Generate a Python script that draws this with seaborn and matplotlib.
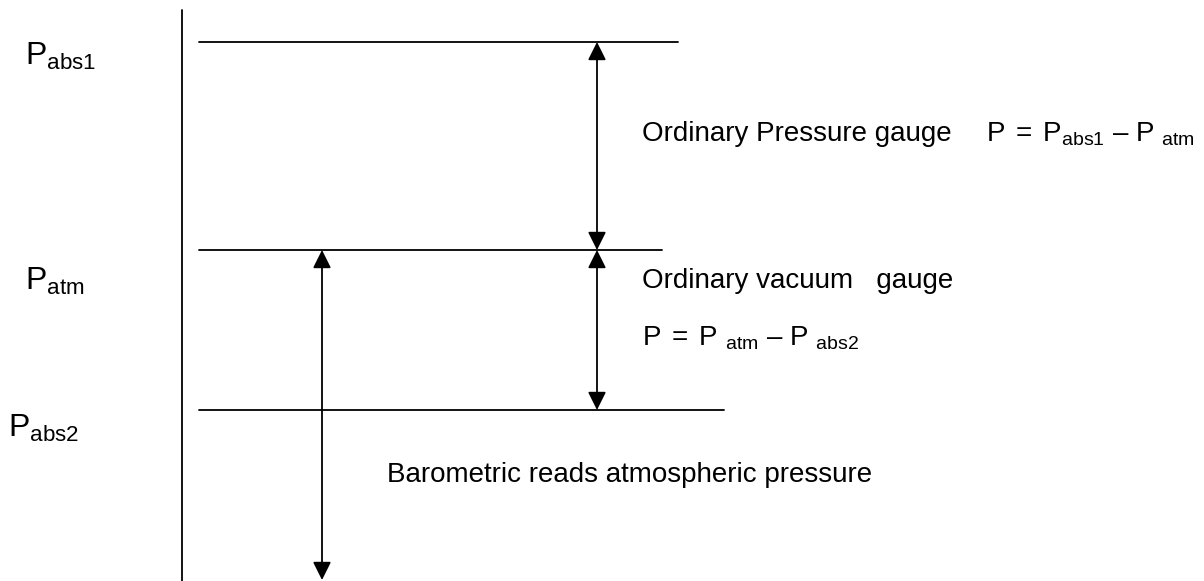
import pandas as pd
import matplotlib.pyplot as plt
import seaborn as sns

# pressure levels (pixel space of the diagram, y grows downwards)
level_names = ["abs1", "atm", "abs2"]
level_y = [42, 250, 410]
level_x0 = [199, 199, 199]
level_x1 = [678, 662, 724]

# left labels
label_text = [r"$\mathrm{P_{abs1}}$", r"$\mathrm{P_{atm}}$", r"$\mathrm{P_{abs2}}$"]
label_x = [25, 25, 8]
label_y = [65, 290, 437]

# arrows: (x, y_from, y_to)
arrow_x = [597, 597, 322]
arrow_y0 = [42, 250, 250]
arrow_y1 = [250, 410, 580]

# right-hand descriptions
desc_text = [
    "Ordinary Pressure gauge",
    r"$\mathrm{P\;=\;P_{abs1}\ –\ P\ {}_{atm}}$",
    "Ordinary vacuum   gauge",
    r"$\mathrm{P\;=\;P\ {}_{atm}\ –\ P\ {}_{abs2}}$",
    "Barometric reads atmospheric pressure",
]
desc_x = [642, 986, 642, 642, 387]
desc_y = [141, 141, 288, 346, 482]

sns.set_theme(style="white")
plt.rcParams["font.family"] = ["Liberation Sans", "DejaVu Sans"]
plt.rcParams["mathtext.fontset"] = "custom"
plt.rcParams["mathtext.rm"] = "Liberation Sans"
plt.rcParams["mathtext.it"] = "Liberation Sans"
plt.rcParams["mathtext.bf"] = "Liberation Sans:bold"

fig = plt.figure(figsize=(12.04, 5.81), dpi=100)
ax = fig.add_axes([0, 0, 1, 1])

# horizontal level lines
rows = []
for name, y, x0, x1 in zip(level_names, level_y, level_x0, level_x1):
    rows.append({"level": name, "x": x0, "y": y})
    rows.append({"level": name, "x": x1, "y": y})
df = pd.DataFrame(rows)
sns.lineplot(data=df, x="x", y="y", units="level", estimator=None,
             color="black", lw=1.3, ax=ax, legend=False, sort=False)
ax.set_xlim(0, 1204)
ax.set_ylim(581, 0)
ax.axis("off")

# vertical axis line
ax.plot([181.5, 181.5], [10, 581], color="black", lw=1.3)

# arrows
for x, y0, y1 in zip(arrow_x, arrow_y0, arrow_y1):
    ax.annotate("", xy=(x, y1), xytext=(x, y0),
                arrowprops=dict(arrowstyle="<|-|>,head_length=1.0,head_width=0.5",
                                mutation_scale=11, color="black", lw=1.3,
                                shrinkA=0, shrinkB=0))

# labels on the left
for t, x, y in zip(label_text, label_x, label_y):
    ax.text(x, y, t, fontsize=23, ha="left", va="baseline", color="black")

# descriptions
for t, x, y in zip(desc_text, desc_x, desc_y):
    ax.text(x, y, t, fontsize=20, ha="left", va="baseline", color="black")

fig.savefig("out.png", dpi=100)
